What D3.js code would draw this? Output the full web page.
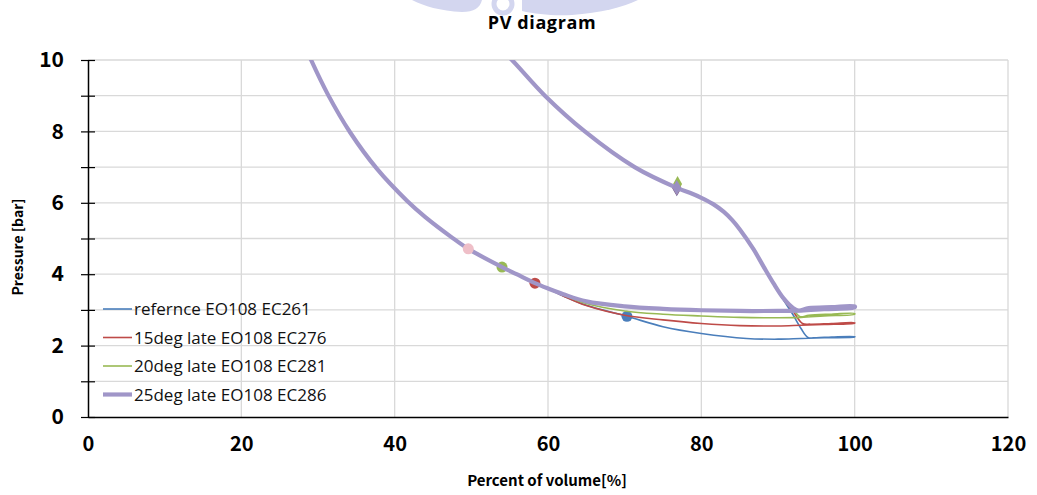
<!DOCTYPE html>
<html><head><meta charset="utf-8">
<script src="https://cdn.jsdelivr.net/npm/d3@7"></script>
<style>
html,body{margin:0;padding:0;background:#fff;}
svg text{font-family:"Noto Sans CJK KR","Noto Sans",sans-serif;}
</style></head>
<body><svg id="c" width="1037" height="495"></svg>
<script>
// ---- data ----
const xTicks = [0, 20, 40, 60, 80, 100, 120];
const yTicks = [0, 1, 2, 3, 4, 5, 6, 7, 8, 9, 10];
const seriesNames = ["refernce EO108 EC261", "15deg late EO108 EC276", "20deg late EO108 EC281", "25deg late EO108 EC286"];
const seriesColors = ["#4a7ebb", "#be4b48", "#98b954", "#a096c8"];
const seriesWidths = [1.6, 1.6, 1.6, 4.2];

// shared expansion curve (volume %, pressure bar)
const expShared = [[54.3,10.2],[55.3,10.0],[59.6,9.0],[64.8,8.0],[71.3,7.0],[76.8,6.42],[78.5,6.28],[80.0,6.14],[81.5,5.97],[82.9,5.75],[84.0,5.52],[85.0,5.26],[86.8,4.70],[88.1,4.22]];
// shared compression curve (from V=60 to top)
const compShared = [[60.0,3.60],[58.3,3.75],[55.9,4.0],[54.0,4.2],[49.6,4.71],[47.4,5.04],[44.0,5.60],[41.6,6.06],[37.7,6.95],[34.2,7.97],[31.3,9.03],[29.1,10.0],[28.2,10.45]];

const blowBlue   = [[89.4,3.72],[90.7,3.28],[92.0,2.85],[93.0,2.48],[93.9,2.23],[95.0,2.22],[97.0,2.24],[100,2.25]];
const blowRed    = [[89.4,3.74],[90.7,3.30],[92.0,2.95],[93.2,2.62],[94.2,2.60],[97.0,2.62],[100,2.64]];
const blowGreen  = [[89.4,3.74],[90.7,3.31],[92.0,3.0],[92.9,2.81],[94.0,2.85],[97.0,2.88],[100,2.90]];
const blowPurple = [[89.4,3.75],[90.7,3.33],[92.0,3.05],[92.7,2.98],[94.0,3.05],[97.0,3.08],[100,3.10]];

const compBlue   = [[100,2.24],[96,2.22],[93,2.2],[90,2.18],[85.9,2.2],[80,2.34],[75,2.53],[70.3,2.82],[65,3.13],[62,3.39]];
const compRed    = [[100,2.63],[96,2.59],[93,2.57],[90,2.55],[85,2.56],[80,2.62],[75,2.72],[70,2.85],[65,3.12],[62,3.39]];
const compGreen  = [[100,2.88],[96,2.83],[93,2.79],[90,2.78],[85,2.79],[80,2.83],[75,2.88],[70,2.97],[65,3.18],[62,3.42]];
const compPurple = [[100,3.07],[96,3.02],[93,2.98],[90,2.97],[85,2.97],[80,2.99],[75,3.03],[70,3.1],[65,3.24],[62,3.44]];

const blowdowns = [blowBlue, blowRed, blowGreen, blowPurple];
const compressions = [compBlue, compRed, compGreen, compPurple];

// markers: EO (upper) and EC (lower)
const eoMarkers = [[76.8,6.40],[76.8,6.42],[76.9,6.53],[76.8,6.42]];
const ecMarkers = [[70.3,2.82],[58.3,3.75],[54.0,4.2],[49.6,4.71]];
const ecMarkerColors = ["#4a7ebb", "#be4b48", "#98b954", "#efbfc8"];
const eoMarkerColors = ["#5b6fa0", "#be4b48", "#98b954", "#9a8fc2"];

// ---- chart ----
const svg = d3.select("#c");
const x = d3.scaleLinear().domain([0,120]).range([88,1008]);
const y = d3.scaleLinear().domain([0,10]).range([417,60]);

// watermark (faint seal fragment at top)
const wmc = "#d3d6ef";
const wm = svg.append("g").attr("fill",wmc);
wm.append("path").attr("d","M412,0 L482,0 C480,8 474,12 462,12 C440,11 424,6 412,0 Z");
wm.append("path").attr("d","M522,0 L638,0 C624,7 600,13 572,15 C552,16 536,14 522,11 Z");
svg.append("circle").attr("cx",503).attr("cy",4).attr("r",9).attr("fill","none").attr("stroke",wmc).attr("stroke-width",5);

// gridlines
svg.append("g").selectAll("line").data(yTicks.filter(d=>d>0)).join("line")
  .attr("x1",x(0)).attr("x2",x(120)).attr("y1",d=>y(d)).attr("y2",d=>y(d))
  .attr("stroke","#d9d9d9").attr("stroke-width",1.3);
svg.append("g").selectAll("line").data(xTicks.filter(d=>d>0)).join("line")
  .attr("x1",d=>x(d)).attr("x2",d=>x(d)).attr("y1",y(0)).attr("y2",y(10))
  .attr("stroke","#d9d9d9").attr("stroke-width",1.3);

// series
svg.append("clipPath").attr("id","pa").append("rect")
  .attr("x",x(0)).attr("y",y(10)).attr("width",x(120)-x(0)).attr("height",y(0)-y(10));
const line = d3.line().x(d=>x(d[0])).y(d=>y(d[1])).curve(d3.curveCatmullRom.alpha(0.5));
const gS = svg.append("g").attr("clip-path","url(#pa)");
const diamond = d3.symbol().type(d3.symbolDiamond).size(70);
seriesNames.forEach((name,i)=>{
  const pts = expShared.concat(blowdowns[i], compressions[i], compShared);
  gS.append("path").attr("d",line(pts)).attr("fill","none")
    .attr("stroke",seriesColors[i]).attr("stroke-width",seriesWidths[i])
    .attr("stroke-linejoin","round").attr("stroke-linecap","round");
  gS.append("path").attr("d",diamond())
    .attr("transform",`translate(${x(eoMarkers[i][0])},${y(eoMarkers[i][1])})`)
    .attr("fill",eoMarkerColors[i]);
  gS.append("circle").attr("cx",x(ecMarkers[i][0])).attr("cy",y(ecMarkers[i][1])).attr("r",5.5)
    .attr("fill",ecMarkerColors[i]);
});

// axes
const yAxis = svg.append("g").attr("transform",`translate(${x(0)},0)`)
  .call(d3.axisLeft(y).tickValues(yTicks).tickSizeInner(7).tickSizeOuter(0).tickPadding(17)
    .tickFormat(d=>d%2===0?d:""));
yAxis.select(".domain").attr("stroke","#000").attr("stroke-width",1.5);
yAxis.selectAll(".tick line").attr("x1",-7).attr("x2",7).attr("stroke","#000").attr("stroke-width",1.2);
yAxis.selectAll(".tick text").attr("font-size",21).attr("font-weight",700).attr("fill","#000")
  .style("font-family",'"Noto Sans CJK KR",sans-serif');

const xAxis = svg.append("g").attr("transform",`translate(0,${y(0)})`)
  .call(d3.axisBottom(x).tickValues(xTicks).tickSize(0).tickPadding(28));
xAxis.select(".domain").attr("stroke","#000").attr("stroke-width",1.5);
xAxis.selectAll(".tick text").attr("font-size",20).attr("font-weight",700).attr("fill","#000")
  .attr("dy","0.32em").style("font-family",'"Noto Sans CJK KR",sans-serif');

// titles
svg.append("text").attr("x",542).attr("y",29).attr("text-anchor","middle")
  .style("font-family",'"Open Sans",sans-serif').style("letter-spacing","0.6px")
  .attr("font-size",18).attr("font-weight",700).text("PV diagram");
svg.append("text").attr("x",547).attr("y",486).attr("text-anchor","middle")
  .attr("font-size",15).attr("font-weight",700).text("Percent of volume[%]");
svg.append("text").attr("transform","translate(23,247) rotate(-90)").attr("text-anchor","middle")
  .attr("font-size",14).attr("font-weight",700).text("Pressure [bar]");

// legend
const legendY = [309, 337.5, 366, 394.5];
const lg = svg.append("g");
seriesNames.forEach((name,i)=>{
  lg.append("line").attr("x1",103).attr("x2",132).attr("y1",legendY[i]).attr("y2",legendY[i])
    .attr("stroke",seriesColors[i]).attr("stroke-width",seriesWidths[i]);
  lg.append("text").attr("x",134).attr("y",legendY[i]).attr("dy","0.36em")
    .style("font-family",'"Open Sans",sans-serif')
    .attr("font-size",17).attr("fill","#111").text(name);
});
</script></body></html>
